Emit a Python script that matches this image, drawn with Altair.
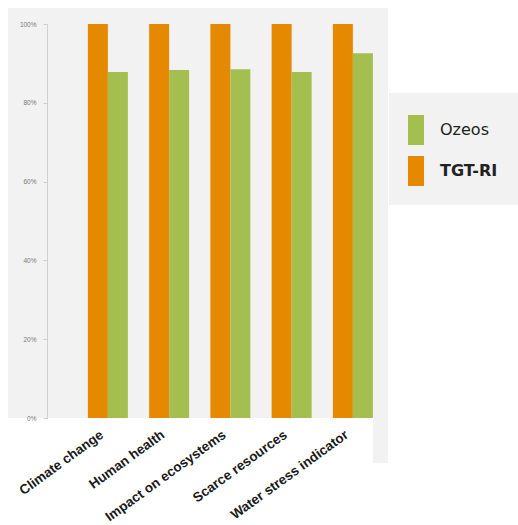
import altair as alt
import pandas as pd

categories = ["Climate change", "Human health", "Impact on ecosystems",
              "Scarce resources", "Water stress indicator"]
series = ["TGT-RI", "Ozeos"]
tgt_values = [1.00, 1.00, 1.00, 1.00, 1.00]
ozeos_values = [0.878, 0.883, 0.885, 0.878, 0.926]
y_ticks = [0, 0.2, 0.4, 0.6, 0.8, 1.0]

rows = []
for c, t, o in zip(categories, tgt_values, ozeos_values):
    rows.append({"category": c, "series": "TGT-RI", "value": t})
    rows.append({"category": c, "series": "Ozeos", "value": o})
df = pd.DataFrame(rows)

W, H = 341, 394
GRAY = "#f2f2f2"
one = pd.DataFrame({"k": [0]})

bg = alt.Chart(one).mark_rect(color=GRAY).encode(
    x=alt.value(-39), x2=alt.value(W), y=alt.value(-16), y2=alt.value(439))
white = alt.Chart(one).mark_rect(color="#ffffff").encode(
    x=alt.value(-39), x2=alt.value(326), y=alt.value(H), y2=alt.value(439))
legbox = alt.Chart(one).mark_rect(color=GRAY).encode(
    x=alt.value(342), x2=alt.value(471), y=alt.value(69), y2=alt.value(181))

bars = alt.Chart(df).mark_bar().encode(
    x=alt.X("category:N", sort=categories, title=None,
            scale=alt.Scale(paddingInner=0.347, paddingOuter=0.457, align=0.73),
            axis=alt.Axis(labelAngle=-36, labelAlign="right", labelBaseline="middle",
                          labelFont="Liberation Sans", labelFontWeight="bold",
                          labelFontSize=13.5, labelColor="#1a1a1a",
                          labelPadding=15, labelOffset=-6, ticks=False, tickSize=0,
                          domain=False, grid=False, labelLimit=300, zindex=2)),
    xOffset=alt.XOffset("series:N", sort=series,
                        scale=alt.Scale(paddingInner=0, paddingOuter=0)),
    y=alt.Y("value:Q", title=None,
            scale=alt.Scale(domain=[0, 1], nice=False),
            axis=alt.Axis(values=y_ticks, format=".0%", labelFont="Liberation Sans",
                          labelFontSize=6.5, labelColor="#777777", labelPadding=7,
                          tickSize=4, tickColor="#cccccc", domainColor="#d0d0d0",
                          grid=False, zindex=2)),
    color=alt.Color("series:N",
                    scale=alt.Scale(domain=["Ozeos", "TGT-RI"],
                                    range=["#a4be4f", "#e58a00"]),
                    legend=alt.Legend(
                        title=None, orient="none", legendX=354, legendY=91,
                        symbolType="M-0.533,-1H0.533V1H-0.533Z", symbolSize=900,
                        symbolStrokeWidth=0, symbolOpacity=1,
                        labelFont="DejaVu Sans", labelFontSize=16,
                        labelColor="#222222", labelOffset=9, rowPadding=11,
                        labelFontWeight={"expr": "datum.label === 'TGT-RI' ? 'bold' : 'normal'"})),
)

chart = alt.layer(bg, white, legbox, bars).properties(
    width=W, height=H,
    padding={"left": 47, "top": 24, "right": 130, "bottom": 107},
    autosize="none",
    background="#ffffff",
).configure_view(stroke=None)

chart.save("out.html", embed_options={"renderer": "svg", "actions": False})
